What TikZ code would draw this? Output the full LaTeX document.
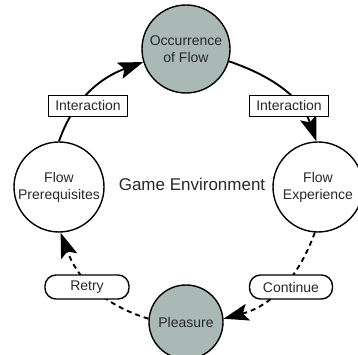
\documentclass[tikz,border=0pt]{standalone}
\usepackage{fontspec}
\setmainfont{Liberation Sans}
\usetikzlibrary{positioning,arrows.meta}
\definecolor{flowgray}{RGB}{170,185,182}
\definecolor{inkgray}{RGB}{40,40,40}
\tikzset{
stage/.style={circle,draw=black,line width=1.4pt,inner sep=0pt,minimum size=90pt,
font=\fontsize{14}{17}\selectfont,text=inkgray,align=center,fill=white},
keystage/.style={stage,fill=flowgray},
actbox/.style={draw=black,line width=1.4pt,fill=white,minimum width=79pt,minimum height=21pt,
inner sep=0pt,font=\fontsize{14}{16}\selectfont,text=inkgray},
loopbox/.style={actbox,rounded corners=11pt,minimum width=84pt,minimum height=24pt},
solidarc/.style={line width=1.9pt,-{Stealth[length=25pt,width=17pt,inset=5pt]}},
dasharc/.style={solidarc,dash pattern=on 5pt off 4pt}
}
\begin{document}
\begin{tikzpicture}[x=1pt,y=1pt]
\useasboundingbox[fill=white] (0,0) rectangle (358,355);
% stages of the loop
\node[keystage,minimum size=88pt] (occ) at (186,306) {Occurrence\\of Flow};
\node[stage] (pre) at (59,168) {Flow\\Prerequisites};
\node[stage] (exp) at (318,168) {Flow\\Experience};
\node[keystage,minimum size=74pt] (ple) at (186,33) {Pleasure};
\node[font=\fontsize{17}{20}\selectfont,text=inkgray] (env) at (192,171) {Game Environment};
% arcs
\draw[solidarc] (pre.north) to[out=71,in=200] (occ.197);
\draw[solidarc] (occ.-16) to[out=-19,in=109] (exp.92);
\draw[dasharc] (exp.-94) to[out=250,in=15] (ple.5);
\draw[dasharc] (ple.175) to[out=163,in=290] (pre.-88);
% labels on the arcs
\node[actbox] (int1) at (88,249) {Interaction};
\node[actbox] (int2) at (289,249) {Interaction};
\node[loopbox] (retry) at (87,68) {Retry};
\node[loopbox,minimum width=83pt] (cont) at (291,68) {Continue};
\end{tikzpicture}
\end{document}
